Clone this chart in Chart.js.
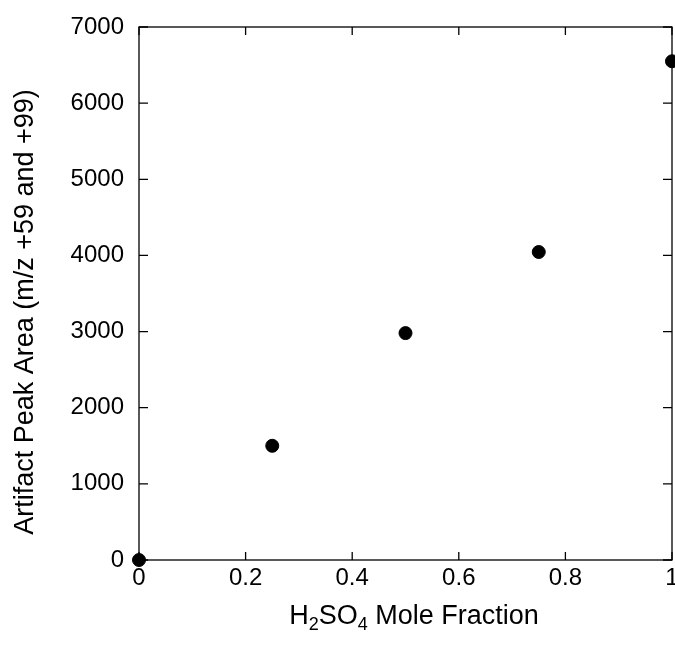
<!DOCTYPE html>
<html><head><meta charset="utf-8">
<script src="https://cdn.jsdelivr.net/npm/chart.js@4"></script>
<style>html,body{margin:0;padding:0;background:#fff}#wrap{width:675px;height:647px}</style>
</head><body><div id="wrap"><canvas id="c" width="675" height="647"></canvas></div>
<script>
const moleFraction = [0, 0.25, 0.5, 0.75, 1];
const peakArea = [0, 1500, 2980, 4045, 6550];
const yTitle = "Artifact Peak Area (m/z +59 and +99)";
const xTitleParts = [["H",0],["2",1],["SO",0],["4",1],[" Mole Fraction",0]];
const FONT = '"Liberation Sans", Arial, Helvetica, sans-serif';

const framePlugin = {
  id: 'frame',
  afterDraw(chart) {
    const ctx = chart.ctx, a = chart.chartArea;
    const xs = chart.scales.x, ys = chart.scales.y;
    ctx.save();
    ctx.strokeStyle = '#000'; ctx.lineWidth = 1.3;
    ctx.strokeRect(a.left, a.top, a.right - a.left, a.bottom - a.top);
    ctx.beginPath();
    ys.ticks.forEach(t => {
      const y = ys.getPixelForValue(t.value);
      ctx.moveTo(a.left, y); ctx.lineTo(a.left + 9, y);
      ctx.moveTo(a.right, y); ctx.lineTo(a.right - 9, y);
    });
    xs.ticks.forEach(t => {
      const x = xs.getPixelForValue(t.value);
      ctx.moveTo(x, a.bottom); ctx.lineTo(x, a.bottom - 8);
      ctx.moveTo(x, a.top); ctx.lineTo(x, a.top + 8);
    });
    ctx.stroke();
    // y title
    ctx.fillStyle = '#000';
    ctx.font = '27px ' + FONT;
    ctx.textAlign = 'center'; ctx.textBaseline = 'alphabetic';
    ctx.translate(33, 312);
    ctx.rotate(-Math.PI / 2);
    ctx.fillText(yTitle, 0, 0);
    ctx.restore();
    // x title with subscripts
    ctx.save();
    ctx.fillStyle = '#000';
    ctx.textBaseline = 'alphabetic';
    ctx.textAlign = 'left';
    let total = 0;
    xTitleParts.forEach(([s, sub]) => { ctx.font = (sub ? '18px ' : '27px ') + FONT; total += ctx.measureText(s).width; });
    let x = 414 - total / 2;
    const base = 624;
    xTitleParts.forEach(([s, sub]) => {
      ctx.font = (sub ? '18px ' : '27px ') + FONT;
      ctx.fillText(s, x, sub ? base + 6 : base);
      x += ctx.measureText(s).width;
    });
    ctx.restore();
  }
};

new Chart(document.getElementById('c'), {
  type: 'scatter',
  data: {
    datasets: [{
      data: moleFraction.map((v, i) => ({x: v, y: peakArea[i]})),
      backgroundColor: '#000', borderColor: '#000',
      pointRadius: 6.5, pointHoverRadius: 6.5, clip: false
    }]
  },
  options: {
    responsive: false, animation: false,
    layout: {autoPadding: false, padding: {left: 0, right: 3, top: 27, bottom: 0}},
    plugins: {legend: {display: false}, tooltip: {enabled: false}},
    scales: {
      x: {
        type: 'linear', min: 0, max: 1,
        grid: {display: false, drawTicks: false}, border: {display: false},
        ticks: {stepSize: 0.2, padding: 4, color: '#000', font: {size: 24, family: FONT}, maxRotation: 0,
          callback: v => String(Number(v.toFixed(1)))},
        afterFit(s) { s.height = 87; s.paddingLeft = 0; s.paddingRight = 0; }
      },
      y: {
        type: 'linear', min: 0, max: 7000,
        grid: {display: false, drawTicks: false}, border: {display: false},
        ticks: {stepSize: 1000, padding: 15, color: '#000', font: {size: 24, family: FONT},
          callback: v => String(v)},
        afterFit(s) { s.width = 139; s.paddingTop = 0; s.paddingBottom = 0; }
      }
    }
  },
  plugins: [framePlugin]
});
</script></body></html>
